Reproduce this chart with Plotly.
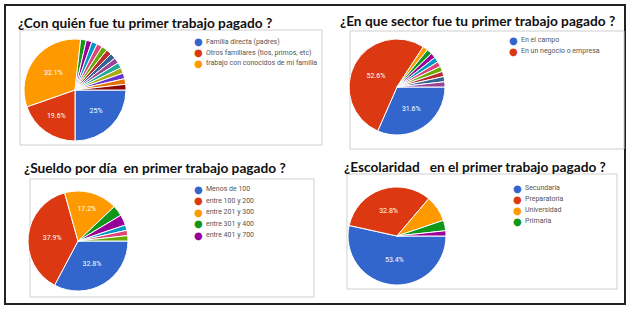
import plotly.graph_objects as go

W, H = 631, 313

# Google Forms palette
PALETTE = ["#3366cc", "#dc3912", "#ff9900", "#109618", "#990099", "#0099c6",
           "#dd4477", "#66aa00", "#b82e2e", "#316395", "#994499", "#22aa99",
           "#aaaa11", "#6633cc", "#e67300", "#8b0707"]

# ---- Chart 1
title1 = "¿Con quién fue tu primer trabajo pagado ?"
legend1 = ["Familia directa (padres)", "Otros familiares (tios, primos, etc)",
           "trabajo con conocidos de mi familia"]
counts1 = [14, 11, 18, 1, 1, 1, 1, 1, 1, 1, 1, 1, 1, 1, 1, 1]

# ---- Chart 2
title2 = "¿En que sector fue tu primer trabajo pagado ?"
legend2 = ["En el campo", "En un negocio o empresa"]
counts2 = [18, 30, 1, 1, 1, 1, 1, 1, 1, 1, 1]

# ---- Chart 3
title3 = "¿Sueldo por día\u00a0 en primer trabajo pagado ?"
legend3 = ["Menos de 100", "entre 100 y 200", "entre 201 y 300",
           "entre 301 y 400", "entre 401 y 700"]
counts3 = [19, 22, 10, 2, 2, 1, 1, 1]

# ---- Chart 4
title4 = "¿Escolaridad\u00a0\u00a0 en el primer trabajo pagado ?"
legend4 = ["Secundaria", "Preparatoria", "Universidad", "Primaria"]
counts4 = [31, 19, 5, 2, 1]


def px_x(x):
    return x / W


def px_y(y):
    return 1 - y / H


# layout geometry (pixels)
charts = [
    dict(title=title1, legend=legend1, counts=counts1, center=(75, 90), r=51,
         title_xy=(16, 22), dot_x=199, text_x=204, leg_y=[42, 52.5, 63],
         box=(20, 30, 322, 145)),
    dict(title=title2, legend=legend2, counts=counts2, center=(397, 87), r=48,
         title_xy=(338, 21), dot_x=513, text_x=519, leg_y=[40, 51],
         box=(350, 31, 624, 149)),
    dict(title=title3, legend=legend3, counts=counts3, center=(78, 241), r=50,
         title_xy=(22, 167), dot_x=199, text_x=204,
         leg_y=[189, 200.5, 212, 223.5, 235], box=(30, 179, 314, 297)),
    dict(title=title4, legend=legend4, counts=counts4, center=(397, 236), r=49,
         title_xy=(342, 166), dot_x=517, text_x=523,
         leg_y=[188, 199, 210, 221], box=(347, 174, 617, 289)),
]

fig = go.Figure()
shapes = []
annotations = []

# outer frame
shapes.append(dict(type="rect", xref="paper", yref="paper",
                   x0=px_x(5), x1=px_x(625), y0=px_y(304), y1=px_y(5),
                   line=dict(color="#222", width=2), layer="below"))

for c in charts:
    cx, cy = c["center"]
    r = c["r"]
    total = sum(c["counts"])
    templates = ["%{percent:.3~p}" if v / total > 0.1 else "" for v in c["counts"]]
    fig.add_trace(go.Pie(
        values=c["counts"],
        sort=False,
        direction="clockwise",
        rotation=90,
        marker=dict(colors=PALETTE[:len(c["counts"])],
                    line=dict(color="white", width=1)),
        texttemplate=templates,
        textposition="inside",
        insidetextorientation="horizontal",
        textfont=dict(color="white", size=7, family="Roboto"),
        domain=dict(x=[px_x(cx - r), px_x(cx + r)],
                    y=[px_y(cy + r), px_y(cy - r)]),
        showlegend=False,
        hoverinfo="percent",
    ))
    x0, y0, x1, y1 = c["box"]
    shapes.append(dict(type="rect", xref="paper", yref="paper",
                       x0=px_x(x0), x1=px_x(x1), y0=px_y(y1), y1=px_y(y0),
                       line=dict(color="#cfcfcf", width=1), layer="below"))
    tx, ty = c["title_xy"]
    annotations.append(dict(text=c["title"], xref="paper", yref="paper",
                            x=px_x(tx), y=px_y(ty), xanchor="left",
                            yanchor="middle", showarrow=False,
                            font=dict(family="Lato", size=13.7, color="#111",
                                      weight="bold")))
    for i, (lab, ly) in enumerate(zip(c["legend"], c["leg_y"])):
        annotations.append(dict(text="●", xref="paper", yref="paper",
                                x=px_x(c["dot_x"]), y=px_y(ly),
                                xanchor="center", yanchor="middle",
                                showarrow=False,
                                font=dict(family="DejaVu Sans", size=10,
                                          color=PALETTE[i])))
        annotations.append(dict(text=lab, xref="paper", yref="paper",
                                x=px_x(c["text_x"]), y=px_y(ly),
                                xanchor="left", yanchor="middle",
                                showarrow=False,
                                font=dict(family="Roboto", size=7,
                                          color="#555")))

fig.update_layout(
    width=W, height=H, autosize=False,
    margin=dict(l=0, r=0, t=0, b=0),
    paper_bgcolor="white", plot_bgcolor="white",
    shapes=shapes, annotations=annotations,
    showlegend=False,
)

fig.write_html("out.html",
               config={"displayModeBar": False},
               post_script="document.body.style.margin='0px';"
                           "document.body.style.overflow='hidden';")
